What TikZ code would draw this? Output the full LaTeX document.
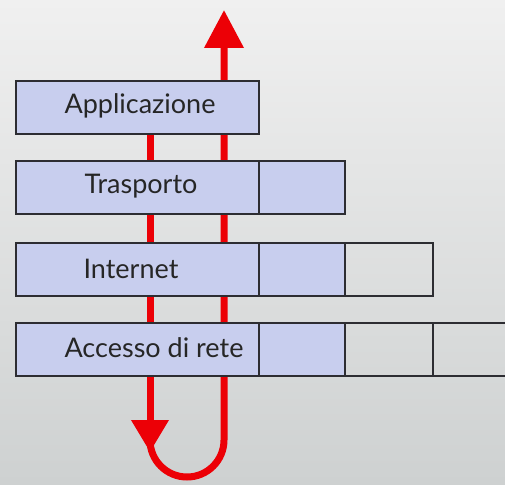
\documentclass[tikz,border=0pt]{standalone}
\usepackage{fontspec}
\setmainfont{Lato}
\usetikzlibrary{arrows.meta}
\definecolor{bgtop}{RGB}{240,240,240}
\definecolor{bgbot}{RGB}{206,209,209}
\definecolor{boxblue}{RGB}{200,206,238}
\definecolor{boxline}{RGB}{45,45,50}
\definecolor{flowred}{RGB}{236,0,6}
\tikzset{
  layerbox/.style={draw=boxline, line width=1.6pt, fill=boxblue, anchor=north west, inner sep=0pt, minimum height=53pt},
  hdrbox/.style={layerbox, minimum width=86pt},
  emptybox/.style={layerbox, fill=none, minimum width=88pt},
  lbl/.style={font=\fontsize{27}{30}\selectfont, text=black!85},
  flow/.style={draw=flowred, line width=7pt},
}
\begin{document}
\begin{tikzpicture}[x=1pt,y=-1pt]
\useasboundingbox (0,0) rectangle (505,484);
\shade[top color=bgtop, bottom color=bgbot] (0,0) rectangle (505,484);
% flow lines (behind boxes)
\coordinate (ltop) at (150,120);
\coordinate (lend) at (150,452);
\coordinate (ustart) at (150,440);
\coordinate (rtop) at (224,10);
\draw[flow, -{Triangle[width=36pt,length=32pt]}] (ltop) -- (lend);
\draw[flow, -{Triangle[width=38pt,length=38pt]}] (ustart) arc[start angle=180, end angle=360, radius=37pt] -- (rtop);
% layers
\begin{scope}
\clip (0,0) rectangle (505,484);
\node[layerbox, minimum width=243pt] (app) at (15,80) {};
\node[layerbox, minimum width=243pt] (tra) at (15,160) {};
\node[hdrbox] (trah) at (258,160) {};
\node[layerbox, minimum width=243pt] (int) at (15,242) {};
\node[hdrbox] (inth1) at (258,242) {};
\node[emptybox] (inth2) at (344,242) {};
\node[layerbox, minimum width=243pt] (acc) at (15,322) {};
\node[hdrbox] (acch1) at (258,322) {};
\node[emptybox] (acch2) at (344,322) {};
\node[emptybox, minimum width=100pt] (acch3) at (432,322) {};
\end{scope}
\node[lbl] (tapp) at (140,106) {Applicazione};
\node[lbl] (ttra) at (141,186) {Trasporto};
\node[lbl] (tint) at (131,269) {Internet};
\node[lbl] (tacc) at (154,348) {Accesso di rete};
\end{tikzpicture}
\end{document}
